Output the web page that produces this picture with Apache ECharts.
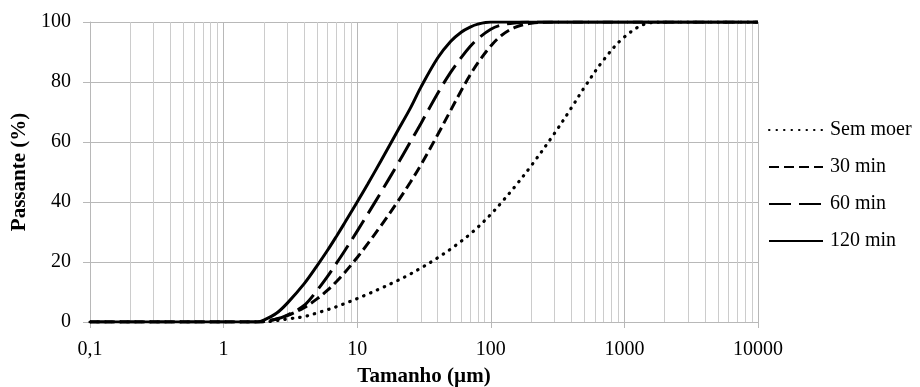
<!DOCTYPE html>
<html>
<head>
<meta charset="utf-8">
<script src="https://cdn.jsdelivr.net/npm/echarts@6/dist/echarts.min.js"></script>
<style>
  html, body { margin: 0; padding: 0; background: #fff; }
  #chart { width: 920px; height: 387px; }
</style>
</head>
<body>
<div id="chart"></div>
<script>
// tamanho de partícula (µm)
var sizes = [0.1, 1, 1.8, 2, 2.5, 3, 4, 5, 6, 7, 8, 10, 12, 15, 20, 25, 30, 40, 50, 60, 70, 80, 100, 120, 150, 200, 300, 400, 500, 700, 1000, 1500, 2000, 10000];

// passante acumulado (%)
var semMoer = [0, 0, 0, 0, 0.5, 1.0, 1.8, 3.0, 4.1, 5.1, 6.1, 7.8, 9.3, 11.2, 13.8, 16.0, 18.0, 21.4, 24.3, 26.9, 29.3, 31.6, 35.9, 39.8, 44.9, 52.0, 62.9, 71.3, 78.1, 87.4, 95.0, 99.6, 100, 100];
var min30 = [0, 0, 0, 0.2, 1.0, 2.1, 4.8, 7.7, 10.6, 13.5, 16.3, 21.5, 26.1, 32.0, 40.0, 46.6, 52.4, 62.4, 70.5, 77.1, 82.3, 86.4, 92.0, 95.5, 98.1, 99.6, 100, 100, 100, 100, 100, 100, 100, 100];
var min60 = [0, 0, 0, 0.2, 1.0, 2.3, 5.5, 10.5, 15.2, 19.6, 23.5, 30.3, 36.0, 43.1, 52.5, 60.0, 66.2, 76.2, 83.2, 88.1, 91.8, 94.4, 97.6, 99.0, 99.7, 100, 100, 100, 100, 100, 100, 100, 100, 100];
var min120 = [0, 0, 0, 0.6, 3.0, 6.3, 12.7, 18.7, 23.9, 28.6, 32.8, 40.0, 46.0, 53.6, 63.6, 71.3, 78.3, 88.0, 93.5, 96.6, 98.3, 99.3, 100, 100, 100, 100, 100, 100, 100, 100, 100, 100, 100, 100];

var yTicks = [0, 20, 40, 60, 80, 100];

function pairs(ys) {
    return sizes.map(function (x, i) { return [x, ys[i]]; });
}

// linhas de grade secundárias da escala log (2..9 de cada década)
var minorLines = [];
[0.1, 1, 10, 100, 1000].forEach(function (d) {
    for (var m = 2; m <= 9; m++) {
        minorLines.push({xAxis: +(m * d).toPrecision(3)});
    }
});

var font = "'Liberation Serif', 'Times New Roman', serif";

var chart = echarts.init(document.getElementById('chart'), null, {renderer: 'canvas'});

function lineSeries(name, ys, lineStyle) {
    return {
        name: name,
        type: 'line',
        data: pairs(ys),
        smooth: 0.35,
        symbol: 'none',
        showSymbol: false,
        z: 5,
        lineStyle: Object.assign({color: '#000', width: 3}, lineStyle),
        itemStyle: {color: '#000'}
    };
}

chart.setOption({
    animation: false,
    backgroundColor: '#fff',
    textStyle: {fontFamily: font, color: '#000'},
    grid: {left: 90, right: 162, top: 22, bottom: 65, containLabel: false, outerBoundsMode: 'none'},
    legend: {
        orient: 'vertical',
        left: 768,
        top: 120,
        padding: 0,
        itemWidth: 54,
        itemHeight: 14,
        itemGap: 17,
        itemStyle: {opacity: 0, borderWidth: 0},
        textStyle: {fontFamily: font, fontSize: 20, color: '#000', padding: [0, 0, 0, 2]},
        data: ['Sem moer', '30 min', '60 min', '120 min']
    },
    xAxis: {
        type: 'log',
        logBase: 10,
        min: 0.1,
        max: 10000,
        name: 'Tamanho (µm)',
        nameLocation: 'middle',
        nameGap: 44,
        nameTextStyle: {fontFamily: font, fontSize: 21, fontWeight: 'bold', color: '#000'},
        axisLine: {show: true, lineStyle: {color: '#b8b8b8', width: 1}},
        axisTick: {show: true, length: 6, lineStyle: {color: '#b8b8b8'}},
        axisLabel: {
            fontFamily: font, fontSize: 20, color: '#000', margin: 18,
            formatter: function (v) {
                return v < 1 ? String(+v.toPrecision(3)).replace('.', ',') : String(Math.round(v));
            }
        },
        splitLine: {show: true, lineStyle: {color: '#b8b8b8', width: 1}},
        minorTick: {show: false},
        minorSplitLine: {show: false}
    },
    yAxis: {
        type: 'value',
        min: yTicks[0],
        max: yTicks[yTicks.length - 1],
        interval: 20,
        name: 'Passante (%)',
        nameLocation: 'middle',
        nameGap: 53,
        nameTextStyle: {fontFamily: font, fontSize: 21, fontWeight: 'bold', color: '#000'},
        axisLine: {show: true, lineStyle: {color: '#b8b8b8', width: 1}},
        axisTick: {show: true, length: 7, lineStyle: {color: '#b8b8b8'}},
        axisLabel: {fontFamily: font, fontSize: 20, color: '#000', margin: 19},
        splitLine: {show: true, lineStyle: {color: '#b8b8b8', width: 1}}
    },
    series: [
        {
            name: 'grade',
            type: 'line',
            data: [[0.1, 0]],
            symbol: 'none',
            silent: true,
            z: 1,
            lineStyle: {opacity: 0},
            markLine: {
                silent: true,
                symbol: 'none',
                animation: false,
                label: {show: false},
                lineStyle: {color: '#cccccc', width: 1, type: 'solid'},
                emphasis: {disabled: true},
                data: minorLines
            }
        },
        lineSeries('Sem moer', semMoer, {type: [0.5, 7], cap: 'round', width: 3.2}),
        lineSeries('30 min', min30, {type: [10, 5]}),
        lineSeries('60 min', min60, {type: [22, 8]}),
        lineSeries('120 min', min120, {type: 'solid'})
    ]
});
</script>
</body>
</html>
